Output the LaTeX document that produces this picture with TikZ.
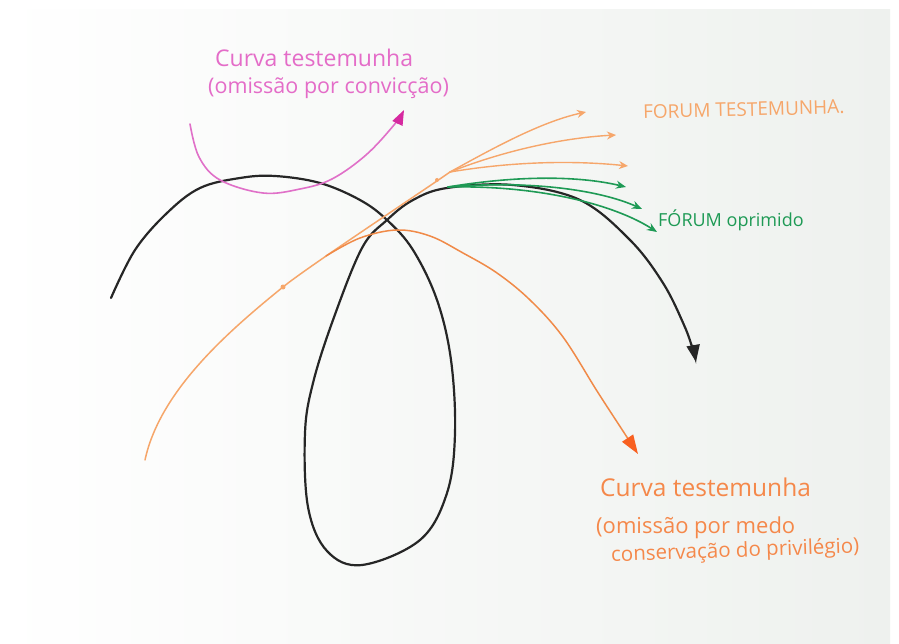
\documentclass[tikz,border=0pt]{standalone}
\usepackage{fontspec}
\setmainfont{Open Sans}
\usetikzlibrary{arrows.meta}

\definecolor{ink}{HTML}{262626}
\definecolor{pinkline}{HTML}{E070C8}
\definecolor{pinktip}{HTML}{D62AA0}
\definecolor{pinktext}{HTML}{E46CC8}
\definecolor{lightorange}{HTML}{F6A66A}
\definecolor{orangeline}{HTML}{F08A48}
\definecolor{orangetip}{HTML}{F86020}
\definecolor{orangetext}{HTML}{F5884A}
\definecolor{greenline}{HTML}{1E9A55}
\definecolor{paper}{RGB}{238,241,238}

\tikzset{
  mainpath/.style={draw=ink, line width=2.2pt, line cap=round,
    -{Triangle[width=13pt,length=17pt]}},
  convpath/.style={draw=pinkline, line width=1.6pt, line cap=round,
    -{Triangle[width=11pt,length=15pt,color=pinktip]}},
  stem/.style={draw=lightorange, line width=1.5pt, line cap=round},
  witness/.style={draw=lightorange, line width=1.4pt, line cap=round,
    -{Stealth[width=8pt,length=9pt]}},
  fearpath/.style={draw=orangeline, line width=1.5pt, line cap=round,
    -{Triangle[width=13pt,length=19pt,color=orangetip]}},
  oppressed/.style={draw=greenline, line width=1.6pt, line cap=round,
    -{Stealth[width=8pt,length=10pt]}},
  label/.style={inner sep=0pt, anchor=west},
}

\begin{document}
\begin{tikzpicture}[x=1pt,y=-1pt]
\useasboundingbox (0,0) rectangle (899,644);
\fill[white] (0,0) rectangle (899,644);
\shade[left color=white, right color=paper] (0,10) rectangle (890,644);

% end points of the strokes
\coordinate (mainStart) at (111,298);
\coordinate (mainEnd) at (696,362);
\coordinate (convStart) at (190,124);
\coordinate (convEnd) at (404,110);
\coordinate (stemStart) at (145,460);
\coordinate (stemDot) at (283,287);
\coordinate (fork) at (450,172);
\coordinate (fearFork) at (326,256);
\coordinate (fearEnd) at (638,454);
\coordinate (greenFork) at (448,187);
\coordinate (w1) at (586,112);
\coordinate (w2) at (616,135);
\coordinate (w3) at (628,166);
\coordinate (g1) at (626,187);
\coordinate (g2) at (642,209);
\coordinate (g3) at (657,232);

% main black trajectory with its loop
\draw[mainpath] plot[smooth, tension=0.6] coordinates {
  (mainStart) (135,250) (167,213) (200,188) (240,178) (275,176) (320,183)
  (360,200) (387,220) (413,250) (437,300) (451,360) (455,433) (447,493)
  (420,540) (362,565) (327,551) (308,507) (305,433) (313,383) (333,320)
  (362,248) (387,220) (413,200) (447,188) (513,185) (580,200) (630,240)
  (663,283) (684,325) (693,350) (mainEnd)};

% pink arc over the top
\draw[convpath] plot[smooth, tension=0.6] coordinates {
  (convStart) (199,157) (220,180) (263,193) (300,189) (332,179)
  (366,155) (394,125) (convEnd)};

% orange stem and its fan of arrows
\draw[stem] (stemStart) .. controls (160,390) and (230,330) .. (stemDot)
  .. controls (309,266) and (420,193) .. (fork);
\fill[lightorange] (stemDot) circle (2.5pt);
\fill[lightorange] (437,180) circle (2pt);
\draw[witness] (fork) .. controls (490,150) and (540,122) .. (w1);
\draw[witness] (fork) .. controls (500,152) and (560,138) .. (w2);
\draw[witness] (fork) .. controls (510,162) and (570,160) .. (w3);

% orange descending curve
\draw[fearpath] plot[smooth, tension=0.6] coordinates {
  (fearFork) (360,238) (397,230) (430,236) (463,253) (497,273)
  (530,300) (563,337) (597,391) (621,428) (fearEnd)};

% green fan along the black curve
\draw[oppressed] (greenFork) .. controls (520,175) and (580,176) .. (g1);
\draw[oppressed] (greenFork) .. controls (530,180) and (600,190) .. (g2);
\draw[oppressed] (greenFork) .. controls (540,185) and (615,205) .. (g3);

% labels
\node[label, text=pinktext, font=\fontsize{23}{23}\selectfont]
  (convTitle) at (215,58) {Curva testemunha};
\node[label, text=pinktext, font=\fontsize{21.5}{22}\selectfont]
  (convNote) at (208,88) {(omissão por convicção)};
\node[label, text=lightorange, font=\fontsize{19}{19}\selectfont, rotate=1.5]
  (witnessLabel) at (643,112) {FORUM TESTEMUNHA.};
\node[label, text=greenline, font=\fontsize{18}{18}\selectfont]
  (oppressedLabel) at (658,220) {FÓRUM oprimido};
\node[label, text=orangetext, font=\fontsize{24.5}{25}\selectfont]
  (fearTitle) at (600,487) {Curva testemunha};
\node[label, text=orangetext, font=\fontsize{22}{22}\selectfont]
  (fearNote) at (596,528) {(omissão por medo};
\node[label, text=orangetext, font=\fontsize{20.5}{21}\selectfont, rotate=2]
  (fearNoteB) at (611,556) {conservação do privilégio)};
\end{tikzpicture}
\end{document}
